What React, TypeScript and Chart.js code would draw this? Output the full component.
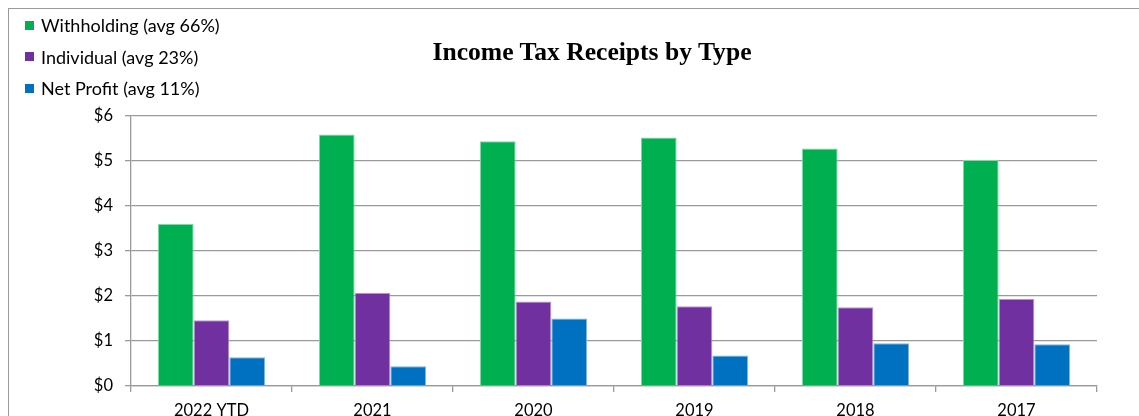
import React, { useEffect, useRef } from "react";
import { Chart, registerables } from "chart.js";

Chart.register(...registerables);

const categories = ["2022 YTD", "2021", "2020", "2019", "2018", "2017"];
const withholding = [3.6, 5.59, 5.44, 5.52, 5.28, 5.02];
const individual = [1.46, 2.07, 1.88, 1.77, 1.75, 1.94];
const netProfit = [0.64, 0.44, 1.5, 0.68, 0.95, 0.93];
const seriesNames = ["Withholding (avg 66%)", "Individual (avg 23%)", "Net Profit (avg 11%)"];
const seriesColors = ["#00B050", "#7030A0", "#0070C0"];
const seriesBorders = ["#7fd9a6", "#b798d0", "#7fb7e0"];
const titleText = "Income Tax Receipts by Type";
const yTicks = [0, 1, 2, 3, 4, 5, 6];

const FONT = "Lato, 'Noto Sans', sans-serif";

export default function App() {
  const ref = useRef<HTMLCanvasElement | null>(null);

  useEffect(() => {
    if (!ref.current) return;
    const values = [withholding, individual, netProfit];
    const chart = new Chart(ref.current, {
      type: "bar",
      data: {
        labels: categories,
        datasets: seriesNames.map((name, i) => ({
          label: name,
          data: values[i],
          backgroundColor: seriesColors[i],
          borderColor: seriesBorders[i],
          borderWidth: 1,
          categoryPercentage: 0.665,
          barPercentage: 1,
        })),
      },
      options: {
        animation: false,
        responsive: false,
        devicePixelRatio: 1,
        layout: { padding: { top: 107, left: 0, right: 70, bottom: 0 } },
        plugins: {
          legend: { display: false },
          title: { display: false },
          tooltip: { enabled: false },
        },
        scales: {
          x: {
            afterFit: (s: any) => {
              s.height = 81;
            },
            grid: {
              drawOnChartArea: false,
              drawTicks: true,
              tickLength: 6,
              color: "#9a9a9a",
              lineWidth: 1.3,
            },
            border: { display: true, color: "#9a9a9a", width: 1.3 },
            ticks: {
              color: "#000",
              font: { family: FONT, size: 16.5 },
              padding: 9,
              maxRotation: 0,
            },
          },
          y: {
            min: yTicks[0],
            max: yTicks[yTicks.length - 1],
            afterFit: (s: any) => {
              s.width = 122;
            },
            afterBuildTicks: (s: any) => {
              s.ticks = yTicks.map((v) => ({ value: v }));
            },
            grid: {
              drawTicks: true,
              tickLength: 6,
              color: "#9a9a9a",
              lineWidth: 1.3,
            },
            border: { display: true, color: "#9a9a9a", width: 1.3 },
            ticks: {
              color: "#000",
              font: { family: FONT, size: 16.5 },
              padding: 12,
              callback: (v: any) => "$" + v,
            },
          },
        },
      },
    });
    return () => chart.destroy();
  }, []);

  return (
    <div
      style={{
        position: "fixed",
        left: 0,
        top: 0,
        width: 1139,
        height: 416,
        overflow: "hidden",
        background: "#fff",
      }}
    >
      <div
        style={{
          position: "absolute",
          left: 8,
          top: 8,
          width: 1158,
          height: 458,
          border: "1px solid #9a9a9a",
          background: "#fff",
        }}
      >
        <canvas
          ref={ref}
          width={1158}
          height={458}
          style={{ position: "absolute", left: 0, top: 0, width: 1158, height: 458 }}
        />
      </div>
      <div
        style={{
          position: "absolute",
          left: 0,
          top: 39,
          width: 1184,
          textAlign: "center",
          fontFamily: "'Liberation Serif', 'Times New Roman', serif",
          fontWeight: "bold",
          fontSize: 25.6,
          lineHeight: "26px",
          color: "#000",
        }}
      >
        {titleText}
      </div>
      {seriesNames.map((name, i) => (
        <div
          key={name}
          style={{
            position: "absolute",
            left: 25,
            top: 14 + i * 31.5,
            height: 22,
            display: "flex",
            alignItems: "center",
            fontFamily: FONT,
            fontSize: 18,
            color: "#000",
            whiteSpace: "nowrap",
          }}
        >
          <span
            style={{
              display: "inline-block",
              width: 9,
              height: 9,
              background: seriesColors[i],
              marginRight: 7,
            }}
          />
          <span>{name}</span>
        </div>
      ))}
    </div>
  );
}
